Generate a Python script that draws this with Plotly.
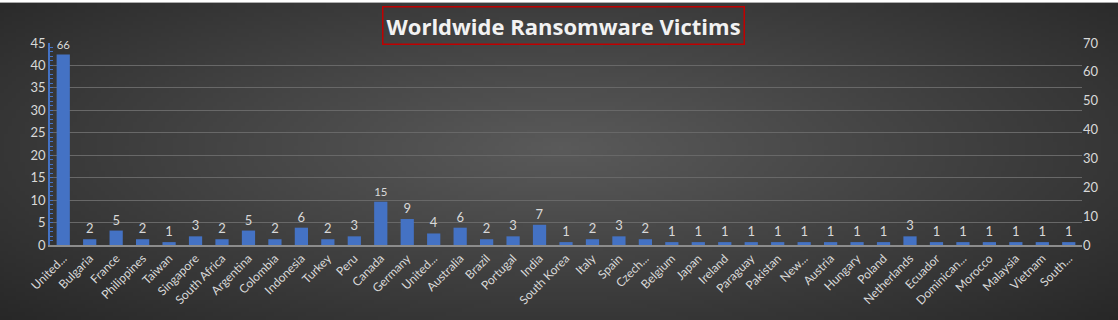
import base64, struct, zlib, math
import plotly.graph_objects as go

categories = ["United...", "Bulgaria", "France", "Philippines", "Taiwan", "Singapore", "South Africa",
              "Argentina", "Colombia", "Indonesia", "Turkey", "Peru", "Canada", "Germany", "United...",
              "Australia", "Brazil", "Portugal", "India", "South Korea", "Italy", "Spain", "Czech...",
              "Belgium", "Japan", "Ireland", "Paraguay", "Pakistan", "New...", "Austria", "Hungary",
              "Poland", "Netherlands", "Ecuador", "Dominican...", "Morocco", "Malaysia", "Vietnam", "South..."]
victims = [66, 2, 5, 2, 1, 3, 2, 5, 2, 6, 2, 3, 15, 9, 4, 6, 2, 3, 7, 1, 2, 3, 2, 1, 1, 1, 1, 1, 1, 1,
           1, 1, 3, 1, 1, 1, 1, 1, 1]
left_ticks = list(range(0, 50, 5))
right_ticks = list(range(0, 80, 10))

# radial gradient background image
W, H = 280, 80
c_in, c_out = 90, 38
rows = []
for j in range(H):
    row = bytearray([0])
    for i in range(W):
        nx = (i + 0.5) / W - 0.5
        ny = (j + 0.5) / H - 0.45
        d = math.sqrt((nx / 0.5) ** 2 + (ny / 0.55) ** 2) / math.sqrt(2)
        d = min(1.0, d)
        v = int(round(c_in + (c_out - c_in) * d))
        row += bytes([v, v, v])
    rows.append(bytes(row))
raw = b"".join(rows)

def chunk(t, data):
    c = struct.pack(">I", len(data)) + t + data
    return c + struct.pack(">I", zlib.crc32(t + data) & 0xffffffff)

png = b"\x89PNG\r\n\x1a\n" + chunk(b"IHDR", struct.pack(">IIBBBBB", W, H, 8, 2, 0, 0, 0)) \
      + chunk(b"IDAT", zlib.compress(raw, 9)) + chunk(b"IEND", b"")
src = "data:image/png;base64," + base64.b64encode(png).decode()

xs = list(range(len(categories)))
fig = go.Figure()
fig.add_trace(go.Scatter(x=[], y=[], yaxis="y", showlegend=False, hoverinfo="skip"))
fig.add_trace(go.Bar(x=xs, y=victims, yaxis="y2", marker=dict(color="#4472c4", line=dict(width=0)),
                     width=0.5, text=[str(v) for v in victims], textposition="outside",
                     textfont=dict(family="Lato", size=13, color="#d9d9d9"), cliponaxis=False,
                     showlegend=False))

fig.update_layout(
    width=1118, height=320,
    margin=dict(l=50, r=36, t=43, b=73),
    paper_bgcolor="rgba(0,0,0,0)", plot_bgcolor="rgba(0,0,0,0)",
    font=dict(family="Lato", color="#d9d9d9"),
    images=[dict(source=src, xref="paper", yref="paper", x=-0.05, y=1.2, sizex=1.09, sizey=1.6,
                 xanchor="left", yanchor="top", sizing="stretch", layer="below")],
    xaxis=dict(range=[-0.5, len(categories) - 0.5], tickvals=xs, ticktext=categories, tickangle=-45,
               tickfont=dict(size=12, color="#d9d9d9"), showgrid=False, showline=True,
               linecolor="#8c8c8c", linewidth=1.5, ticks="", zeroline=False),
    yaxis=dict(range=[0, 45], tickvals=left_ticks, showgrid=True, gridcolor="#686868", gridwidth=1,
               showline=True, linecolor="#4472c4", linewidth=1.5, ticks="inside", ticklen=3,
               tickcolor="#4472c4", minor=dict(dtick=1, ticks="inside", ticklen=3, tickcolor="#4472c4"),
               tickfont=dict(size=13, color="#d9d9d9"), zeroline=False),
    yaxis2=dict(range=[0, 70], tickvals=right_ticks, overlaying="y", side="right", showgrid=False,
                showline=False, ticks="", tickfont=dict(size=13, color="#d9d9d9"), zeroline=False),
    annotations=[dict(text="<b>Worldwide Ransomware Victims</b>", xref="paper", yref="paper",
                      x=0.4973, y=1.0, yanchor="bottom", yshift=-2, showarrow=False,
                      font=dict(family="Open Sans", size=22, color="#f2f2f2"),
                      bordercolor="#c00000", borderwidth=1.5, borderpad=3)],
)
fig.write_html("out.html")
